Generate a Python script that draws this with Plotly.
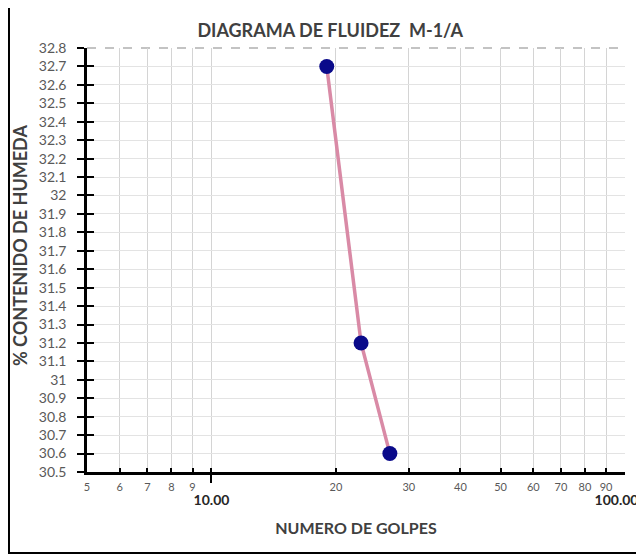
import plotly.graph_objects as go

# datos del ensayo
golpes = [19, 23, 27]
humedad = [32.7, 31.2, 30.6]

y_ticks = [30.5, 30.6, 30.7, 30.8, 30.9, 31.0, 31.1, 31.2, 31.3, 31.4, 31.5, 31.6,
           31.7, 31.8, 31.9, 32.0, 32.1, 32.2, 32.3, 32.4, 32.5, 32.6, 32.7, 32.8]
y_labels = ["30.5", "30.6", "30.7", "30.8", "30.9", "31", "31.1", "31.2", "31.3", "31.4", "31.5", "31.6",
            "31.7", "31.8", "31.9", "32", "32.1", "32.2", "32.3", "32.4", "32.5", "32.6", "32.7", "32.8"]

x_menores = [5, 6, 7, 8, 9, 20, 30, 40, 50, 60, 70, 80, 90]
x_menores_txt = ["5", "6", "7", "8", "9", "20", "30", "40", "50", "60", "70", "80", "90"]
x_mayores = [10, 100]
x_mayores_txt = ["10.00", "100.00&nbsp;&nbsp;&nbsp;&nbsp;&nbsp;"]

FUENTE = "Lato"
GRIS = "#595959"

fig = go.Figure()

fig.add_trace(go.Scatter(
    x=golpes, y=humedad, mode="lines+markers",
    line=dict(color="#d98aa6", width=3.5),
    marker=dict(color="#0a0a8a", size=15, line=dict(width=0)),
    showlegend=False, hoverinfo="skip"
))
# trazo invisible para el eje y2 (ticks hacia dentro)
fig.add_trace(go.Scatter(
    x=golpes, y=humedad, mode="markers", yaxis="y2",
    marker=dict(opacity=0), showlegend=False, hoverinfo="skip"
))

# ticks: menores (texto) + mayores con salto de línea
tickvals = x_menores + x_mayores
ticktext = x_menores_txt + [
    "<br><span style='font-size:14px;color:#262626'><b>%s</b></span>" % t for t in x_mayores_txt
]

fig.update_layout(
    width=644, height=558,
    margin=dict(l=79, r=27, t=40, b=94),
    plot_bgcolor="white", paper_bgcolor="white",
    font=dict(family=FUENTE, color=GRIS, size=11),
    title=dict(
        text="<b>DIAGRAMA DE FLUIDEZ  M-1/A</b>",
        x=0.452, xref="paper", xanchor="center", y=0.96, yanchor="middle",
        font=dict(size=18, color="#404040", family=FUENTE)
    ),
    xaxis=dict(
        type="log", range=[0.69897, 2], automargin=False,
        tickmode="array", tickvals=tickvals, ticktext=ticktext,
        ticks="inside", ticklen=4, tickwidth=2, tickcolor="black",
        showline=True, linecolor="black", linewidth=2.5,
        showgrid=True, gridcolor="#d4d4d4", gridwidth=1,
        tickfont=dict(size=11, color=GRIS),
        ticklabelstandoff=3, ticklabeloverflow="allow",
        minor=dict(tickmode="array", tickvals=x_mayores, ticks="outside",
                   ticklen=8, tickwidth=1.5, tickcolor="black", showgrid=False),
        title=dict(text="<b>NUMERO DE GOLPES</b>", standoff=16,
                   font=dict(size=16, color="#404040")),
        zeroline=False,
    ),
    yaxis=dict(
        range=[30.5, 32.8], automargin=False,
        tickmode="array", tickvals=y_ticks, ticktext=y_labels,
        ticks="outside", ticklen=7, tickwidth=2, tickcolor="black",
        showline=True, linecolor="black", linewidth=2.5,
        showgrid=True, gridcolor="#e3e3e3", gridwidth=1,
        tickfont=dict(size=14, color=GRIS),
        ticklabelstandoff=8,
        zeroline=False,
    ),
    yaxis2=dict(
        overlaying="y", range=[30.5, 32.8], side="left", automargin=False,
        tickmode="array", tickvals=y_ticks, showticklabels=False,
        ticks="inside", ticklen=7, tickwidth=2, tickcolor="black",
        showline=False, showgrid=False, zeroline=False,
    ),
)

# título del eje y
fig.add_annotation(text="<b>% CONTENIDO DE HUMEDA</b>", textangle=-90,
                   xref="paper", yref="paper", x=-0.1245, y=0.533,
                   xanchor="center", yanchor="middle", showarrow=False,
                   font=dict(size=18, color="#404040", family=FUENTE))

# borde superior punteado
fig.add_shape(type="line", xref="paper", yref="y domain", x0=0, x1=1, y0=1, y1=1,
              line=dict(color="#b0b0b0", width=1.5, dash="dash"), layer="below")
# marco exterior
fig.add_shape(type="rect", xref="paper", yref="paper", x0=-0.145, x1=1.06, y0=-0.191, y1=1.099,
              line=dict(color="black", width=2), fillcolor="rgba(0,0,0,0)")

fig.write_html("out.html")
